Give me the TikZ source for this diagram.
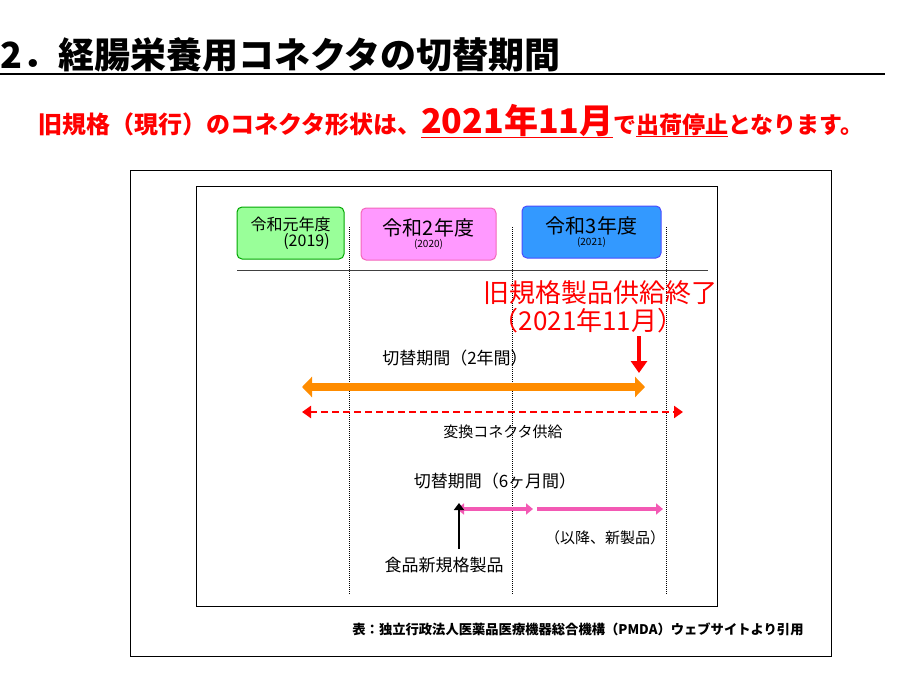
\documentclass[tikz,border=0pt]{standalone}
\usepackage{fontspec}
\setmainfont{Noto Sans CJK JP}
\usetikzlibrary{arrows.meta}
\newcommand{\fs}[1]{\fontsize{#1}{#1}\selectfont}
\definecolor{pinkbox}{HTML}{FF99FF}
\definecolor{bluebox}{HTML}{3399FF}
\definecolor{greenbox}{HTML}{99FF99}
\begin{document}
\begin{tikzpicture}[x=1pt,y=-1pt,
  yb/.style={draw,rounded corners=5pt,line width=1pt,minimum height=52pt,align=center,inner sep=0pt},
  vline/.style={densely dotted,line width=1pt},
  lbl/.style={inner sep=0pt,font=\fs{17}}]
\useasboundingbox (0,0) rectangle (920,690);
\node[anchor=west,inner sep=0pt,font=\fs{36}\bfseries] (title) at (0,55) {2．経腸栄養用コネクタの切替期間};
\draw[line width=1.2pt] (0,74) -- (885,74);
\node[anchor=base west,inner sep=0pt,text=red,font=\bfseries] (sub) at (38,133) {\fs{24}旧規格（現行）のコネクタ形状は、\fs{34}\underline{2021年11月}\fs{23}で\underline{出荷停止}となります。};
\draw[line width=0.8pt] (130,170) rectangle (831,656);
\draw[line width=0.8pt] (196,186) rectangle (717,606);
\node[yb,fill=greenbox,draw=green!65!black,minimum width=107pt,font=\fs{16}] (y1) at (290.5,233) {\fontsize{16}{26}\selectfont 令和元年度\\\hspace*{2em}(2019)};
\node[yb,fill=pinkbox,draw=magenta!60,minimum width=135pt] (y2) at (428.5,234) {\fontsize{20}{27}\selectfont 令和2年度\\(2020)};
\node[yb,fill=bluebox,draw=blue!70,minimum width=139pt] (y3) at (591.5,232) {\fontsize{20}{27}\selectfont 令和3年度\\(2021)};
\draw[line width=1pt,black!75] (237,270) -- (708,270);
\foreach \x in {349,512,666} \draw[vline] (\x,227) -- (\x,595);
\node[text=red,font=\fs{26},inner sep=0pt] (end) at (600,293) {旧規格製品供給終了};
\node[text=red,font=\fs{26},inner sep=0pt] (end2) at (588,321) {（2021年11月）};
\coordinate (ra) at (639,336); \coordinate (rb) at (639,373);
\draw[red,line width=3.5pt,-{Triangle[length=12pt,width=16pt]}] (ra) -- (rb);
\node[lbl] (t1) at (455,358) {切替期間（2年間）};
\coordinate (o1) at (302,387); \coordinate (o2) at (645,387);
\draw[orange!90!yellow,line width=8pt,{Triangle[length=10pt,width=20pt]}-{Triangle[length=10pt,width=20pt]}] (o1) -- (o2);
\coordinate (d1) at (302,412); \coordinate (d2) at (683,412);
\draw[red,line width=2.5pt,dashed,dash pattern=on 7pt off 4pt,{Triangle[length=9pt,width=12pt]}-{Triangle[length=9pt,width=12pt]}] (d1) -- (d2);
\node[lbl,font=\fs{15}] (t2) at (503,432) {変換コネクタ供給};
\node[lbl] (t3) at (495,481) {切替期間（6ヶ月間）};
\coordinate (p1) at (457,509); \coordinate (p2) at (533,509);
\coordinate (p3) at (537,509); \coordinate (p4) at (663,509);
\draw[magenta!65,line width=3.5pt,{Triangle[length=7pt,width=11pt]}-{Triangle[length=7pt,width=11pt]}] (p1) -- (p2);
\draw[magenta!65,line width=3.5pt,-{Triangle[length=7pt,width=11pt]}] (p3) -- (p4);
\coordinate (k1) at (459,549); \coordinate (k2) at (459,503);
\draw[line width=2pt,-{Triangle[length=7pt,width=10pt]}] (k1) -- (k2);
\node[lbl] (t4) at (444,565) {食品新規格製品};
\node[lbl,font=\fs{15}] (t5) at (605,538) {（以降、新製品）};
\node[inner sep=0pt,font=\fs{13.3}\bfseries] (cap) at (578,629) {表：独立行政法人医薬品医療機器総合機構（PMDA）ウェブサイトより引用};
\end{tikzpicture}
\end{document}
